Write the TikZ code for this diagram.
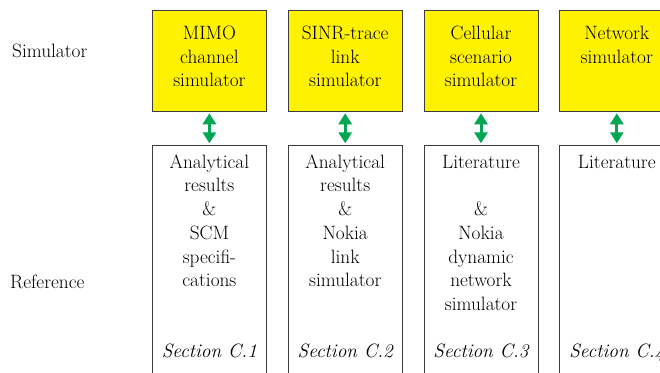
\documentclass[tikz,border=0pt]{standalone}
\usetikzlibrary{arrows.meta, positioning}
\definecolor{simyellow}{HTML}{FFF200}
\definecolor{linkgreen}{HTML}{00A651}
\definecolor{edgegray}{HTML}{3C3C3C}

\begin{document}
\begin{tikzpicture}[
    x=1pt, y=-1pt,
    node distance=33pt and 21pt,
    simbox/.style={
        rectangle, draw=edgegray, line width=0.8pt, fill=simyellow,
        minimum width=114pt, text width=110pt, inner xsep=2pt, inner ysep=0pt,
        text height=29pt, text depth=72pt, align=center,
        font=\fontsize{19.3}{23.75}\selectfont
    },
    refbox/.style={
        rectangle, draw=edgegray, line width=0.8pt, fill=white,
        minimum width=114pt, text width=110pt, inner xsep=2pt, inner ysep=0pt,
        text height=23pt, text depth=240pt, align=center,
        font=\fontsize{19.3}{23.75}\selectfont
    },
    seclbl/.style={anchor=base, inner sep=0pt, font=\fontsize{19.3}{23.75}\selectfont\itshape},
    side/.style={anchor=base west, inner sep=0pt, font=\fontsize{19.3}{23.75}\selectfont},
    link/.style={{Triangle[length=11pt, width=13pt]}-{Triangle[length=11pt, width=13pt]},
        line width=3pt, linkgreen, shorten <=1.5pt, shorten >=1.5pt},
]
\path[use as bounding box, clip] (0,0) rectangle (660,372);

% Row labels
\node[side] (simrow) at (12,57) {Simulator};
\node[side] (refrow) at (10,288) {Reference};

% Simulators
\node[simbox, anchor=north west] (sim1) at (152,10) {MIMO\\channel\\simulator};
\node[simbox, right=of sim1] (sim2) {SINR-trace\\link\\simulator};
\node[simbox, right=of sim2] (sim3) {Cellular\\scenario\\simulator};
\node[simbox, right=of sim3] (sim4) {Network\\simulator};

% References
\node[refbox, below=of sim1] (ref1) {Analytical\\results\\\&\\SCM\\specifi-\\cations};
\node[refbox, below=of sim2] (ref2) {Analytical\\results\\\&\\Nokia\\link\\simulator};
\node[refbox, below=of sim3] (ref3) {Literature\\[23.75pt]\&\\Nokia\\dynamic\\network\\simulator};
\node[refbox, below=of sim4] (ref4) {Literature};

% Section numbers
\node[seclbl] (sec1) at ([yshift=-213pt]ref1.north) {Section C.1};
\node[seclbl] (sec2) at ([yshift=-213pt]ref2.north) {Section C.2};
\node[seclbl] (sec3) at ([yshift=-213pt]ref3.north) {Section C.3};
\node[seclbl] (sec4) at ([yshift=-213pt]ref4.north) {Section C.4};

% Validation links
\foreach \i in {1,...,4}
    \draw[link] (sim\i) -- (ref\i);

\end{tikzpicture}
\end{document}
